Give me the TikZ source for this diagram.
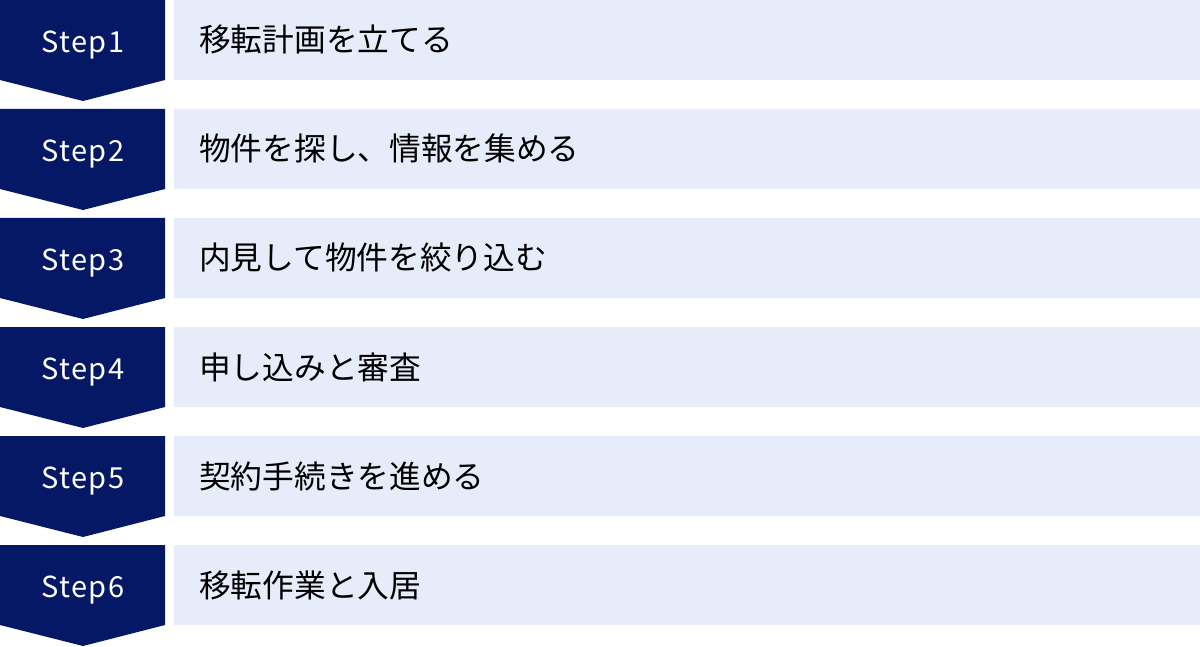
\documentclass[tikz,border=0pt]{standalone}
\usepackage{fontspec}
\setmainfont{Noto Sans CJK JP}
\definecolor{navy}{HTML}{041865}
\definecolor{pale}{HTML}{E6ECF9}
\begin{document}
\begin{tikzpicture}[x=1pt,y=-1pt,
  stepshape/.style={fill=navy,draw=none},
  panel/.style={fill=pale,draw=none},
  steplabel/.style={text=white,font=\fontsize{29}{32}\selectfont\addfontfeature{LetterSpace=5},anchor=base,inner sep=0pt},
  tasklabel/.style={text=black,font=\fontsize{31.7}{36}\selectfont,anchor=base west,inner sep=0pt}]
\useasboundingbox (0,0) rectangle (1200,647);
\foreach \i/\t in {0/移転計画を立てる,1/物件を探し、情報を集める,2/内見して物件を絞り込む,3/申し込みと審査,4/契約手続きを進める,5/移転作業と入居}{
  \pgfmathsetmacro{\yy}{\i*109}
  \pgfmathtruncatemacro{\n}{\i+1}
  \fill[stepshape] (0,\yy) -- (165,\yy) -- (165,\yy+80) -- (83,\yy+101) -- (0,\yy+80) -- cycle;
  \fill[panel] (174,\yy) rectangle (1200,\yy+80);
  \node[steplabel] (s\n) at (83,\yy+52.3) {Step\n};
  \node[tasklabel] (t\n) at (199,\yy+52) {\t};
}
\end{tikzpicture}
\end{document}
